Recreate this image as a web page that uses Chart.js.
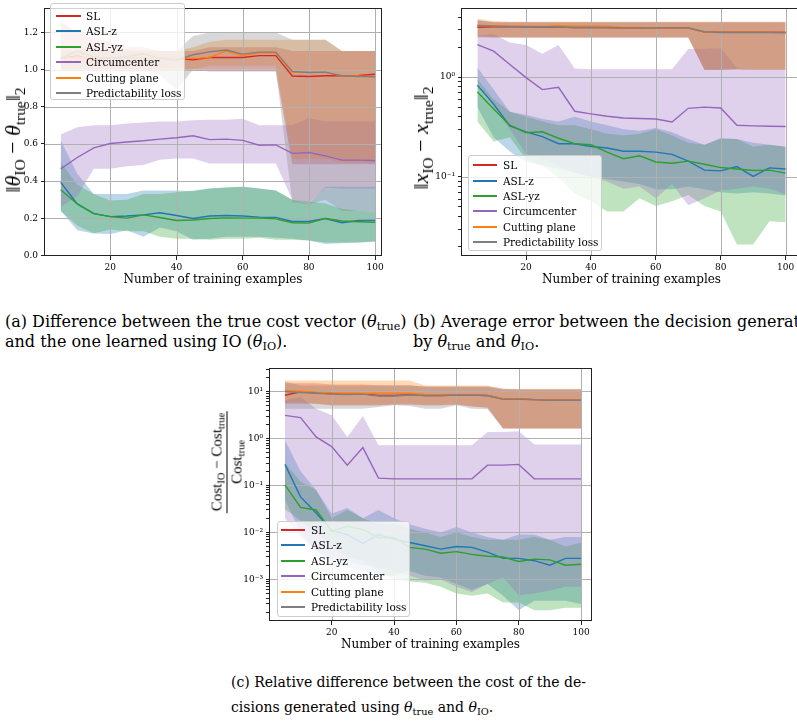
<!DOCTYPE html>
<html><head><meta charset="utf-8">
<script src="https://cdn.jsdelivr.net/npm/chart.js@4.4.1/dist/chart.umd.min.js"></script>
<style>
html,body{margin:0;padding:0;background:#fff;}
body{width:797px;height:722px;overflow:hidden;position:relative;font-family:"DejaVu Serif",serif;color:#000;}
canvas{position:absolute;}
.leg{position:absolute;border:1px solid #cccccc;border-radius:3px;background:rgba(255,255,255,0.8);box-sizing:border-box;}
.leg .ln{position:absolute;height:2px;}
.leg .tx{position:absolute;white-space:nowrap;font-size:10.5px;line-height:12px;transform:translateY(-50%);}
.yt{position:absolute;white-space:nowrap;transform:translate(-50%,-50%) rotate(-90deg);line-height:1;font-weight:normal;}
.yt sub,.cap sub{font-size:70%;vertical-align:-0.3em;line-height:0;}
.frac{display:inline-flex;flex-direction:column;align-items:center;}
.frac .num{border-bottom:1px solid #000;padding:0 2px 2px 2px;}
.frac .den{padding-top:2px;}
.cap{position:absolute;white-space:nowrap;}
</style></head>
<body>
<script>
// ---------- data ----------
const X = [5,10,15,20,25,30,35,40,45,50,55,60,65,70,75,80,85,90,95,100];
const X_TICKS = [20,40,60,80,100];
const LABELS = ['SL','ASL-z','ASL-yz','Circumcenter','Cutting plane','Predictability loss'];
const COLORS = ['#d62728','#1f77b4','#2ca02c','#9467bd','#ff7f0e','#7f7f7f'];
const A_Y_TICKS = [0,0.2,0.4,0.6,0.8,1.0,1.2];

// (a) ||theta_IO - theta_true||_2
const A_SL      = [1.06,1.075,1.05,1.065,1.06,1.06,1.06,1.06,1.052,1.065,1.065,1.065,1.075,1.075,0.965,0.963,0.967,0.967,0.968,0.975];
const A_SL_LO   = [1.0,1.0,1.0,1.0,1.0,1.0,1.0,1.0,1.0,0.99,0.99,0.99,0.99,0.99,0.49,0.49,0.49,0.49,0.49,0.49];
const A_SL_HI   = [1.26,1.2,1.17,1.15,1.12,1.12,1.1,1.1,1.1,1.12,1.12,1.12,1.12,1.12,1.1,1.1,1.1,1.1,1.1,1.1];
const A_ASLZ    = [0.393,0.277,0.225,0.209,0.212,0.218,0.230,0.215,0.199,0.212,0.215,0.212,0.206,0.205,0.183,0.183,0.199,0.176,0.188,0.188];
const A_ASLZ_LO = [0.24,0.135,0.118,0.115,0.135,0.10,0.15,0.13,0.085,0.09,0.10,0.10,0.10,0.095,0.09,0.08,0.061,0.065,0.07,0.075];
const A_ASLZ_HI = [0.62,0.44,0.33,0.33,0.33,0.35,0.35,0.35,0.345,0.36,0.365,0.37,0.36,0.35,0.30,0.28,0.37,0.37,0.37,0.37];
const A_ASLYZ    = [0.353,0.277,0.225,0.209,0.201,0.218,0.204,0.188,0.191,0.199,0.202,0.201,0.201,0.197,0.176,0.174,0.199,0.185,0.181,0.178];
const A_ASLYZ_LO = [0.24,0.16,0.12,0.14,0.13,0.13,0.10,0.09,0.09,0.085,0.09,0.09,0.095,0.085,0.085,0.08,0.07,0.07,0.07,0.075];
const A_ASLYZ_HI = [0.50,0.38,0.33,0.295,0.30,0.33,0.33,0.34,0.35,0.36,0.365,0.37,0.36,0.35,0.30,0.29,0.28,0.25,0.24,0.23];
const A_CIRC    = [0.466,0.527,0.579,0.602,0.61,0.617,0.626,0.633,0.644,0.623,0.626,0.619,0.593,0.595,0.549,0.554,0.536,0.513,0.513,0.511];
const A_CIRC_LO = [0.26,0.318,0.466,0.466,0.48,0.487,0.515,0.522,0.522,0.494,0.494,0.494,0.494,0.494,0.30,0.283,0.366,0.36,0.36,0.36];
const A_CIRC_HI = [0.65,0.69,0.70,0.70,0.71,0.715,0.72,0.72,0.727,0.73,0.73,0.736,0.70,0.70,0.70,0.74,0.72,0.72,0.72,0.72];
const A_CP      = [1.06,1.065,1.06,1.065,1.06,1.06,1.06,1.06,1.06,1.065,1.10,1.075,1.09,1.09,0.985,0.985,0.985,0.965,0.965,0.96];
const A_CP_LO   = [0.99,0.99,0.99,0.99,0.99,0.99,0.99,1.0,1.0,1.02,1.02,1.02,1.02,1.02,0.52,0.52,0.52,0.50,0.50,0.50];
const A_CP_HI   = [1.12,1.12,1.1,1.1,1.1,1.1,1.1,1.1,1.12,1.15,1.16,1.16,1.16,1.16,1.16,1.16,1.16,1.1,1.1,1.1];
const A_PL      = [1.06,1.10,1.067,1.06,1.07,1.085,1.06,1.05,1.08,1.095,1.105,1.083,1.094,1.094,0.99,0.984,0.986,0.967,0.962,0.962];
const A_PL_LO   = [1.0,1.0,1.0,1.0,1.0,1.0,0.97,0.89,1.0,1.0,1.0,1.0,1.0,1.0,0.285,0.275,0.30,0.24,0.24,0.23];
const A_PL_HI   = [1.1,1.1,1.1,1.1,1.1,1.1,1.1,1.1,1.18,1.2,1.2,1.2,1.2,1.2,1.16,1.16,1.16,1.1,1.1,1.1];

// (b) ||x_IO - x_true||_2  (log scale)
const B_SL      = [3.17,3.2,3.2,3.2,3.18,3.18,3.15,3.15,3.15,3.12,3.12,3.12,3.12,3.12,2.83,2.82,2.82,2.82,2.82,2.8];
const B_SL_LO   = [2.5,2.5,2.5,2.5,2.5,2.5,2.5,2.5,2.5,2.5,2.5,2.5,2.5,2.5,1.18,1.18,1.2,1.18,1.18,1.18];
const B_SL_HI   = [3.7,3.55,3.55,3.55,3.55,3.55,3.55,3.55,3.55,3.55,3.55,3.55,3.55,3.55,3.55,3.55,3.55,3.55,3.55,3.55];
const B_ASLZ    = [0.83,0.536,0.325,0.283,0.253,0.215,0.215,0.202,0.195,0.181,0.181,0.177,0.168,0.144,0.117,0.115,0.127,0.101,0.123,0.12];
const B_ASLZ_LO = [0.5,0.25,0.18,0.14,0.13,0.12,0.11,0.10,0.095,0.09,0.085,0.075,0.075,0.08,0.075,0.07,0.068,0.07,0.068,0.065];
const B_ASLZ_HI = [1.25,0.75,0.45,0.42,0.38,0.36,0.40,0.36,0.33,0.30,0.29,0.31,0.28,0.24,0.21,0.245,0.24,0.22,0.21,0.20];
const B_ASLYZ    = [0.71,0.48,0.33,0.277,0.283,0.244,0.215,0.21,0.177,0.152,0.163,0.141,0.137,0.144,0.134,0.124,0.12,0.116,0.117,0.109];
const B_ASLYZ_LO = [0.36,0.226,0.25,0.15,0.129,0.099,0.068,0.057,0.045,0.045,0.061,0.051,0.057,0.066,0.051,0.045,0.021,0.021,0.036,0.035];
const B_ASLYZ_HI = [0.95,0.6,0.45,0.40,0.36,0.33,0.33,0.30,0.27,0.26,0.27,0.30,0.26,0.22,0.21,0.24,0.24,0.20,0.21,0.20];
const B_CIRC    = [2.12,1.82,1.34,0.99,0.75,0.79,0.455,0.428,0.406,0.39,0.385,0.38,0.355,0.487,0.50,0.49,0.329,0.325,0.322,0.32];
const B_CIRC_LO = [0.9,0.5,0.3,0.17,0.15,0.13,0.11,0.10,0.09,0.076,0.08,0.061,0.085,0.052,0.061,0.073,0.076,0.08,0.076,0.067];
const B_CIRC_HI = [2.63,2.7,2.23,2.1,1.72,2.1,1.22,1.2,1.2,1.2,1.2,1.2,1.2,1.92,1.92,1.95,1.22,1.18,1.18,1.18];
const B_CP      = [3.3,3.28,3.25,3.25,3.22,3.28,3.25,3.25,3.22,3.15,3.15,3.12,3.12,3.12,2.83,2.82,2.82,2.82,2.82,2.8];
const B_CP_LO   = [2.6,2.55,2.5,2.5,2.5,2.5,2.5,2.5,2.5,2.5,2.5,2.5,2.5,2.5,1.2,1.2,1.2,1.2,1.2,1.2];
const B_CP_HI   = [3.85,3.65,3.6,3.6,3.6,3.6,3.6,3.6,3.6,3.6,3.6,3.6,3.6,3.6,3.6,3.6,3.6,3.6,3.6,3.6];
const B_PL      = [3.3,3.25,3.22,3.2,3.2,3.18,3.15,3.15,3.15,3.12,3.12,3.12,3.12,3.12,2.85,2.8,2.8,2.8,2.8,2.8];
const B_PL_LO   = [2.55,2.5,2.5,2.5,2.5,2.5,2.5,2.5,2.5,2.5,2.5,2.5,2.5,2.5,1.18,1.18,1.2,1.18,1.18,1.18];
const B_PL_HI   = [3.75,3.55,3.55,3.55,3.55,3.55,3.55,3.55,3.55,3.55,3.55,3.55,3.55,3.55,3.55,3.55,3.55,3.55,3.55,3.55];

// (c) (Cost_IO - Cost_true)/Cost_true  (log scale)
const C_SL      = [8.3,9.8,9.4,9.0,8.8,8.9,8.2,8.2,8.5,8.2,8.2,8.4,8.4,8.2,6.9,6.9,6.7,6.5,6.5,6.5];
const C_SL_LO   = [5.5,5.5,5.5,5.0,5.0,5.0,5.0,5.2,5.2,5.0,5.0,5.2,4.8,4.5,1.63,1.63,1.63,1.63,1.63,1.63];
const C_SL_HI   = [15,15,15,14,14,14,13.5,13.5,13.5,12.5,12.5,12.5,12.5,12.5,11,11,11,11,11,11];
const C_ASLZ    = [0.28,0.057,0.026,0.011,0.009,0.0058,0.009,0.0072,0.0061,0.0052,0.0044,0.005,0.0048,0.0038,0.0028,0.0028,0.0025,0.002,0.0028,0.0028];
const C_ASLZ_LO = [0.05,0.01,0.004,0.002,0.0018,0.0015,0.0012,0.0012,0.0015,0.0012,0.0011,0.0008,0.0006,0.0008,0.00045,0.00022,0.00035,0.00035,0.00035,0.0003];
const C_ASLZ_HI = [0.92,0.2,0.08,0.025,0.033,0.02,0.03,0.02,0.015,0.012,0.01,0.013,0.01,0.008,0.007,0.009,0.009,0.007,0.008,0.008];
const C_ASLYZ    = [0.103,0.034,0.03,0.0105,0.0135,0.0115,0.0078,0.0078,0.0048,0.0044,0.0036,0.0039,0.0034,0.0031,0.003,0.0024,0.0027,0.0026,0.002,0.0021];
const C_ASLYZ_LO = [0.031,0.018,0.01,0.005,0.003,0.0025,0.0015,0.001,0.0009,0.00085,0.0007,0.0005,0.00045,0.0005,0.00032,0.00032,0.00022,0.00022,0.00025,0.00025];
const C_ASLYZ_HI = [0.3,0.12,0.08,0.02,0.03,0.02,0.015,0.015,0.012,0.01,0.008,0.01,0.008,0.007,0.007,0.007,0.008,0.007,0.005,0.006];
const C_CIRC    = [3.1,2.78,1.08,0.67,0.27,0.64,0.143,0.138,0.138,0.138,0.138,0.138,0.138,0.27,0.27,0.28,0.138,0.138,0.138,0.138];
const C_CIRC_LO = [0.02,0.008,0.004,0.003,0.0025,0.002,0.0018,0.0015,0.0012,0.00095,0.001,0.0007,0.00054,0.0008,0.0011,0.00046,0.0005,0.00058,0.0007,0.0007];
const C_CIRC_HI = [6.45,7.6,4.3,3.1,1.08,3.0,0.72,0.72,0.72,0.72,0.72,0.72,0.72,1.38,1.38,1.43,0.74,0.74,0.74,0.74];
const C_CP      = [10.5,10.2,9.7,9.4,9.3,9.2,9.2,9.2,9.2,8.6,8.5,8.5,8.5,8.2,7.0,6.9,6.7,6.5,6.5,6.5];
const C_CP_LO   = [5.9,5.9,5.5,5.2,5.2,5.2,5.2,5.5,5.5,5.2,5.2,5.5,4.8,4.6,1.63,1.63,1.63,1.63,1.63,1.63];
const C_CP_HI   = [17.1,17.1,17.1,17.1,17.1,17.1,17.1,17.1,17.1,13.4,13.4,13.4,13.4,13.4,11.4,11.4,11.4,11.4,11.4,11.4];
const C_PL      = [10,9.5,9.2,8.8,8.6,8.8,8.0,8.0,8.4,8.2,8.2,8.4,8.4,8.1,6.8,6.8,6.7,6.5,6.5,6.5];
const C_PL_LO   = [4.3,4.3,4.3,4.3,4.3,4.3,4.7,5.1,4.9,4.3,4.3,5.1,4.3,4.2,1.63,1.63,1.63,1.63,1.63,1.63];
const C_PL_HI   = [16.3,13.4,13.4,13.4,13.4,13.4,13.4,13.4,13.4,12.9,12.9,12.9,12.9,12.9,11.4,11,11,11,11,11];

// ---------- helpers ----------
const SUP = {'-':'\u207B','0':'\u2070','1':'\u00B9','2':'\u00B2','3':'\u00B3','4':'\u2074','5':'\u2075','6':'\u2076','7':'\u2077','8':'\u2078','9':'\u2079'};
function supText(n){ return String(n).split('').map(c=>SUP[c]).join(''); }
function rgba(hex,a){ const n=parseInt(hex.slice(1),16); return `rgba(${n>>16&255},${n>>8&255},${n&255},${a})`; }
function pts(arr){ return X.map((x,i)=>({x:x,y:arr[i]})); }
function logTicks(minExp,maxExp,lo,hi){
  const t=[];
  for(let e=minExp;e<=maxExp;e++) for(let m=1;m<=9;m++){ const v=m*Math.pow(10,e); if(v>=lo&&v<=hi) t.push(v); }
  return t;
}
function isDecade(v){ const e=Math.log10(v); return Math.abs(e-Math.round(e))<1e-9; }

function buildDatasets(means,los,his){
  const ds=[];
  for(let i=5;i>=0;i--){
    ds.push({data:pts(los[i]),borderColor:'rgba(0,0,0,0)',borderWidth:0,pointRadius:0,fill:false});
    ds.push({data:pts(his[i]),borderColor:'rgba(0,0,0,0)',borderWidth:0,pointRadius:0,fill:'-1',backgroundColor:rgba(COLORS[i],0.3)});
  }
  for(let i=5;i>=0;i--){
    ds.push({data:pts(means[i]),borderColor:COLORS[i],borderWidth:1.4,pointRadius:0,fill:false});
  }
  return ds;
}

const mplPlugin = {
  id:'mpl',
  beforeDatasetsDraw(chart,args,opts){
    const {ctx,chartArea:{left,right,top,bottom},scales:{x,y}} = chart;
    ctx.save(); ctx.strokeStyle='#b0b0b0'; ctx.lineWidth=1; ctx.beginPath();
    for(const v of X_TICKS){ const p=Math.round(x.getPixelForValue(v))+0.5; ctx.moveTo(p,top); ctx.lineTo(p,bottom); }
    for(const v of opts.yMajor){ const p=Math.round(y.getPixelForValue(v))+0.5; ctx.moveTo(left,p); ctx.lineTo(right,p); }
    ctx.stroke(); ctx.restore();
  },
  afterDatasetsDraw(chart){
    const {ctx,chartArea:{left,right,top,bottom}} = chart;
    ctx.save(); ctx.strokeStyle='#222'; ctx.lineWidth=1;
    ctx.strokeRect(Math.round(left)-0.5,Math.round(top)+0.5,Math.round(right-left)+1,Math.round(bottom-top)-1);
    ctx.restore();
  }
};

const TICK_FONT = {family:'DejaVu Serif',size:9};
const TITLE_FONT = {family:'DejaVu Serif',size:12};

function makeChart(p){
  const c=document.createElement('canvas');
  c.width=p.w; c.height=p.h;
  c.style.left=p.left+'px'; c.style.top=p.top+'px'; c.style.width=p.w+'px'; c.style.height=p.h+'px';
  document.body.appendChild(c);
  const yScale = p.log ? {
      type:'logarithmic', min:p.ymin, max:p.ymax,
      afterBuildTicks:s=>{ s.ticks=p.yTicks.map(v=>({value:v})); },
      ticks:{font:TICK_FONT,color:'#000',padding:3,autoSkip:false,callback:v=>isDecade(v)?('10'+supText(Math.round(Math.log10(v)))):''}
    } : {
      type:'linear', min:p.ymin, max:p.ymax,
      afterBuildTicks:s=>{ s.ticks=p.yTicks.map(v=>({value:v})); },
      ticks:{font:TICK_FONT,color:'#000',padding:3,autoSkip:false,callback:v=>Number(v).toFixed(1)}
    };
  Object.assign(yScale,{
    afterFit:s=>{ s.width=p.yW; },
    grid:{display:true,drawOnChartArea:false,tickLength:4,tickColor:'#222',tickWidth:1},
    border:{display:false}
  });
  new Chart(c,{
    type:'line',
    data:{datasets:buildDatasets(p.means,p.los,p.his)},
    options:{
      responsive:false, devicePixelRatio:1, animation:false,
      layout:{padding:{left:0,right:p.padR,top:p.padT,bottom:0}},
      elements:{line:{tension:0}},
      plugins:{legend:{display:false},tooltip:{enabled:false},filler:{drawTime:'beforeDatasetsDraw',propagate:false},mpl:{yMajor:p.yMajor}},
      scales:{
        x:{type:'linear',min:p.xmin,max:p.xmax,
           afterBuildTicks:s=>{ s.ticks=X_TICKS.map(v=>({value:v})); },
           afterFit:s=>{ s.height=p.xH; },
           ticks:{font:TICK_FONT,color:'#000',padding:2,autoSkip:false,maxRotation:0},
           grid:{display:true,drawOnChartArea:false,tickLength:4,tickColor:'#222',tickWidth:1},
           border:{display:false},
           title:{display:true,text:'Number of training examples',font:TITLE_FONT,color:'#000',padding:{top:0,bottom:p.titlePad}}},
        y:yScale
      }
    },
    plugins:[mplPlugin]
  });
}

function makeLegend(p){
  const d=document.createElement('div'); d.className='leg';
  d.style.cssText=`left:${p.left}px;top:${p.top}px;width:${p.w}px;height:${p.h}px;`;
  LABELS.forEach((lab,i)=>{
    const y=p.row0+i*p.step;
    const l=document.createElement('div'); l.className='ln';
    l.style.cssText=`left:${p.lx}px;width:${p.lw}px;top:${y-1}px;background:${COLORS[i]};`;
    const t=document.createElement('div'); t.className='tx'; t.textContent=lab;
    t.style.cssText=`left:${p.tx}px;top:${y}px;`;
    d.appendChild(l); d.appendChild(t);
  });
  document.body.appendChild(d);
}

// chart (a)
makeChart({left:0,top:0,w:392,h:292,yW:45,padR:11,padT:2,xH:36,titlePad:5,
  xmin:0.25,xmax:101.8,ymin:-0.003,ymax:1.329,log:false,yTicks:A_Y_TICKS,yMajor:A_Y_TICKS,
  means:[A_SL,A_ASLZ,A_ASLYZ,A_CIRC,A_CP,A_PL],los:[A_SL_LO,A_ASLZ_LO,A_ASLYZ_LO,A_CIRC_LO,A_CP_LO,A_PL_LO],his:[A_SL_HI,A_ASLZ_HI,A_ASLYZ_HI,A_CIRC_HI,A_CP_HI,A_PL_HI]});
// chart (b)
makeChart({left:400,top:0,w:401,h:292,yW:62,padR:0,padT:2,xH:36,titlePad:5,
  xmin:0.25,xmax:104.75,ymin:0.0161,ymax:4.89,log:true,yTicks:logTicks(-2,0,0.0161,4.89),yMajor:[0.1,1],
  means:[B_SL,B_ASLZ,B_ASLYZ,B_CIRC,B_CP,B_PL],los:[B_SL_LO,B_ASLZ_LO,B_ASLYZ_LO,B_CIRC_LO,B_CP_LO,B_PL_LO],his:[B_SL_HI,B_ASLZ_HI,B_ASLYZ_HI,B_CIRC_HI,B_CP_HI,B_PL_HI]});
// chart (c)
makeChart({left:200,top:360,w:400,h:300,yW:70,padR:9,padT:6,xH:39,titlePad:8,
  xmin:0.2,xmax:103.2,ymin:0.00013,ymax:31,log:true,yTicks:logTicks(-4,1,0.00013,31),yMajor:[0.001,0.01,0.1,1,10],
  means:[C_SL,C_ASLZ,C_ASLYZ,C_CIRC,C_CP,C_PL],los:[C_SL_LO,C_ASLZ_LO,C_ASLYZ_LO,C_CIRC_LO,C_CP_LO,C_PL_LO],his:[C_SL_HI,C_ASLZ_HI,C_ASLYZ_HI,C_CIRC_HI,C_CP_HI,C_PL_HI]});

makeLegend({left:50,top:3,w:135,h:97,lx:5,lw:25,tx:35,row0:11.7,step:15.5});
makeLegend({left:468,top:155,w:134,h:96,lx:4,lw:24,tx:34,row0:9.3,step:15.3});
makeLegend({left:277,top:521,w:133,h:96,lx:3,lw:24,tx:33,row0:8,step:15.4});
</script>

<div class="yt" style="left:13px;top:140px;font-family:'Liberation Serif',serif;font-size:22px">‖<i>θ</i><sub>IO</sub> − <i>θ</i><sub>true</sub>‖<sub>2</sub></div>
<div class="yt" style="left:421px;top:138px;font-family:'Liberation Serif',serif;font-size:22px">‖<i>x</i><sub>IO</sub> − <i>x</i><sub>true</sub>‖<sub>2</sub></div>
<div class="yt" style="left:227px;top:462px;font-family:'Liberation Serif',serif;font-size:15px"><div class="frac"><div class="num">Cost<sub>IO</sub> − Cost<sub>true</sub></div><div class="den">Cost<sub>true</sub></div></div></div>

<div class="cap" style="left:5px;top:312px;font-family:'DejaVu Serif',serif;font-size:16px;line-height:20px">(a) Difference between the true cost vector (<i>θ</i><sub>true</sub>)<br>and the one learned using IO (<i>θ</i><sub>IO</sub>).</div>
<div class="cap" style="left:413px;top:312px;font-family:'DejaVu Serif',serif;font-size:16px;line-height:20px">(b) Average error between the decision generated<br>by <i>θ</i><sub>true</sub> and <i>θ</i><sub>IO</sub>.</div>
<div class="cap" style="left:231px;top:670px;font-family:'DejaVu Serif',serif;font-size:14px;line-height:25px">(c) Relative difference between the cost of the de-<br>cisions generated using <i>θ</i><sub>true</sub> and <i>θ</i><sub>IO</sub>.</div>
</body></html>
